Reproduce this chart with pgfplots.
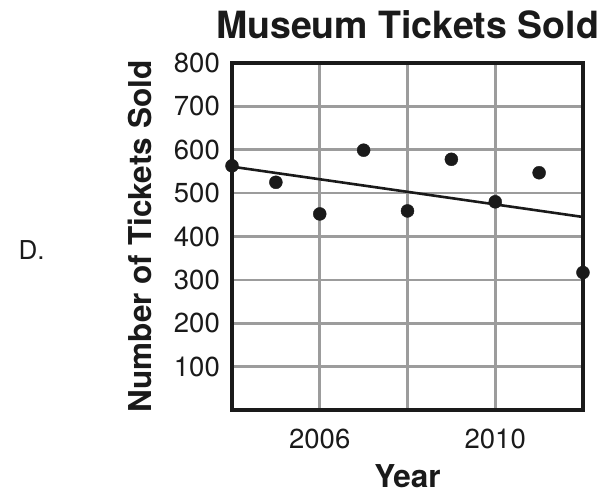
\documentclass[border=0pt]{standalone}
\usepackage{fontspec}
\setmainfont{TeX Gyre Heros}
\usepackage{pgfplots}
\pgfplotsset{compat=1.18}
\definecolor{gridgray}{HTML}{9C9C9C}
\definecolor{ink}{HTML}{1A1A1A}

\begin{document}
\begin{tikzpicture}
\begin{axis}[
  scale only axis,
  width=351pt, height=347pt,
  xmin=2004, xmax=2012,
  ymin=0, ymax=800,
  xtick={2006,2008,2010},
  xticklabels={2006,,2010},
  ytick={100,200,...,800},
  major tick length=0pt,
  grid=major,
  grid style={gridgray, line width=2.6pt},
  axis line style={ink, line width=3.6pt},
  clip=false,
  /pgf/number format/assume math mode=true,
  /pgf/number format/1000 sep={},
  tick label style={font=\fontsize{27.5}{32}\selectfont, text=ink},
  xticklabel style={anchor=base, yshift=-38pt, inner sep=0pt},
  yticklabel style={anchor=east, inner sep=0pt, xshift=-12pt},
  title={Museum Tickets Sold},
  title style={font=\bfseries\fontsize{37.5}{44}\selectfont, text=ink,
    at={(axis description cs:0.5,1)}, anchor=base, yshift=18pt},
  xlabel={Year},
  xlabel style={font=\bfseries\fontsize{31.5}{36}\selectfont, text=ink,
    at={(axis description cs:0.5,0)}, anchor=base, yshift=-77pt},
  ylabel={Number of Tickets Sold},
  ylabel style={font=\bfseries\fontsize{31.5}{36}\selectfont, text=ink,
    at={(axis description cs:-0.262,0.5)}, anchor=center},
]
% trend line
\addplot[ink, line width=2.6pt] coordinates {(2004,561) (2012,445)};
% yearly ticket sales
\addplot[only marks, mark=*, mark size=6.5pt, ink] coordinates {
  (2004,563) (2005,525) (2006,452) (2007,599) (2008,459)
  (2009,578) (2010,480) (2011,547) (2012,317)
};
\node[anchor=west, font=\fontsize{26}{30}\selectfont, text=ink]
  at (axis description cs:-0.618,0.461) {D.};
\end{axis}
\pgfresetboundingbox
\path (-232pt,-85pt) rectangle (375pt,410pt);
\end{tikzpicture}
\end{document}
